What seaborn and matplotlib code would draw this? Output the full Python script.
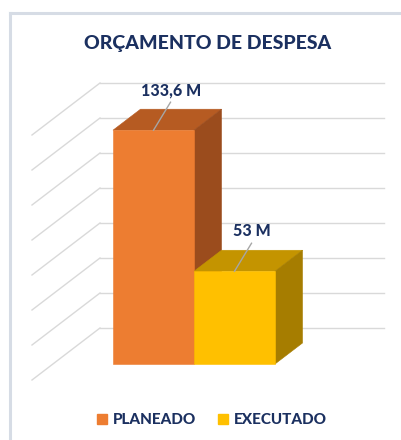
import matplotlib
matplotlib.use("Agg")
import matplotlib.pyplot as plt
import seaborn as sns
from matplotlib.patches import Polygon
from matplotlib.lines import Line2D

# Chart data
categories = ["PLANEADO", "EXECUTADO"]
values = [133.6, 53.0]
grid_values = [0, 20, 40, 60, 80, 100, 120, 140]
title = "ORÇAMENTO DE DESPESA"

# Face colours of the 3D columns (front, top, side)
front_colors = ["#ED7D31", "#FFC000"]
top_colors = ["#B65B22", "#C49400"]
side_colors = ["#9B4C1D", "#A67D00"]
navy = "#1B3060"
grid_color = "#D9D9D9"
font = "Lato"
heavy = 900

W, H = 401, 440
fig = plt.figure(figsize=(W / 100, H / 100), dpi=100)
ax = fig.add_axes([0, 0, 1, 1])

sns.barplot(x=categories, y=values, hue=categories, palette=front_colors,
            width=1.0, saturation=1, legend=False, ax=ax)

# Pixel geometry of the drawing space: one category = 81 px, 1 M = 1.75 px
PX_X, PX_Y = 81.0, 1.75
X0_PX, Y0_PX = 153.5, 364.0
ax.set_xlim(-X0_PX / PX_X, (W - X0_PX) / PX_X)
ax.set_ylim((Y0_PX - H) / PX_Y, Y0_PX / PX_Y)
ax.set_axis_off()

# Oblique depth of the columns
DX, DY = 27.5 / PX_X, 21.0 / PX_Y

# Back wall and side wall gridlines
wall_dy = 36.0 / PX_Y
wall_left = (100 - X0_PX) / PX_X
wall_right = (384 - X0_PX) / PX_X
side_front_x = (32 - X0_PX) / PX_X
side_drop = 52.0 / PX_Y
for g in grid_values:
    yb = g + wall_dy
    ax.plot([wall_left, wall_right], [yb, yb], color=grid_color, lw=1.0, zorder=1)
    ax.plot([side_front_x, wall_left], [yb - side_drop, yb], color=grid_color, lw=1.0, zorder=1)

def fmt(v):
    if float(v).is_integer():
        return f"{int(v)} M"
    return f"{v:.1f}".replace(".", ",") + " M"

# Top and side faces, built from the seaborn bars
for p in ax.patches[:]:
    x0, w, h = p.get_x(), p.get_width(), p.get_height()
    i = int(round(x0 + w / 2))
    z = 3 + i
    p.set_zorder(z + 0.2)
    p.set_edgecolor(front_colors[i])
    p.set_linewidth(0.4)
    top = Polygon([(x0, h), (x0 + w, h), (x0 + w + DX, h + DY), (x0 + DX, h + DY)],
                  closed=True, facecolor=top_colors[i], edgecolor=top_colors[i],
                  lw=0.4, zorder=z + 0.1)
    side = Polygon([(x0 + w, 0), (x0 + w + DX, DY), (x0 + w + DX, h + DY), (x0 + w, h)],
                   closed=True, facecolor=side_colors[i], edgecolor=side_colors[i],
                   lw=0.4, zorder=z + 0.1)
    ax.add_patch(top)
    ax.add_patch(side)
    c = x0 + w / 2
    ax.plot([c, c + 0.21], [h, h + 16], color="#A6A6A6", lw=1.0, zorder=z + 0.3)
    ax.text(c + 0.22, h + 20, fmt(values[i]), ha="center", va="baseline",
            fontsize=11.5, fontweight=heavy, color=navy, family=font, zorder=10)

# Title
fig.text(208 / W, 1 - 49 / H, title, ha="center", va="baseline",
         fontsize=14, fontweight=heavy, color=navy, family=font)

# Legend
handles = [Line2D([], [], marker="s", linestyle="none", markersize=7.2,
                  markerfacecolor=c, markeredgecolor=c) for c in front_colors]
fig.legend(handles, categories, loc="center", bbox_to_anchor=(212 / W, 1 - 420 / H),
           ncol=2, frameon=False, handlelength=0.7, handletextpad=0.35,
           columnspacing=1.4, labelcolor=navy,
           prop=dict(family=font, weight=heavy, size=11))

# Chart frame
frame_color = "#D6DCE5"
fig.add_artist(Line2D([10 / W, 10 / W], [0, 1 - 13 / H], transform=fig.transFigure,
                      color=frame_color, lw=2.2))
fig.add_artist(Line2D([10 / W, 1], [1 - 13 / H, 1 - 13 / H], transform=fig.transFigure,
                      color=frame_color, lw=2.2))

fig.savefig("out.png", dpi=100)
